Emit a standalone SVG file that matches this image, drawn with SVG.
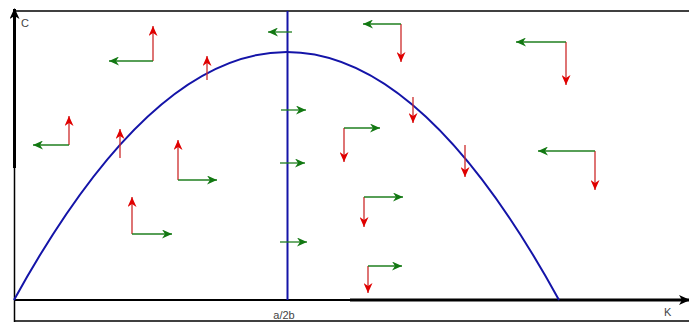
<svg xmlns="http://www.w3.org/2000/svg" width="689" height="322" viewBox="0 0 689 322">
<style>
.frame{stroke:#000;stroke-width:1.5;fill:none}
.axis{stroke:#000;fill:none}
.blue{stroke:#1414a8;stroke-width:2;fill:none}
.r{stroke:#cc2a2a;stroke-width:1.3;fill:none;marker-end:url(#mr)}
.g{stroke:#1f7f1f;stroke-width:1.3;fill:none;marker-end:url(#mg)}
.lbl{font-family:"Liberation Sans",Arial,sans-serif;font-size:11px;fill:#444}
</style>
<defs>
<marker id="mr" markerUnits="userSpaceOnUse" markerWidth="10" markerHeight="9" viewBox="0 0 10 9" refX="10" refY="4.5" orient="auto">
<path d="M0,0 L10,4.5 L0,9 L3,4.5 z" fill="#e00000"/>
</marker>
<marker id="mg" markerUnits="userSpaceOnUse" markerWidth="10" markerHeight="9" viewBox="0 0 10 9" refX="10" refY="4.5" orient="auto">
<path d="M0,0 L10,4.5 L0,9 L3,4.5 z" fill="#127812"/>
</marker>
<marker id="mk" markerUnits="userSpaceOnUse" markerWidth="11" markerHeight="10" viewBox="0 0 11 10" refX="10" refY="5" orient="auto">
<path d="M0,0 L11,5 L0,10 L3,5 z" fill="#000"/>
</marker>
</defs>
<g id="frame">
<line class="frame" x1="14" y1="11" x2="689" y2="11"/>
<line class="frame" x1="14.5" y1="11" x2="14.5" y2="322"/>
<line class="frame" x1="14" y1="321" x2="689" y2="321"/>
</g>
<g id="axes">
<line class="axis" stroke-width="3" x1="14.5" y1="168" x2="14.5" y2="9" marker-end="url(#mk)"/>
<line class="axis" stroke-width="2" x1="14" y1="300" x2="352" y2="300"/>
<line class="axis" stroke-width="3" x1="350" y1="300" x2="689" y2="300" marker-end="url(#mk)"/>
</g>
<g id="curves">
<path class="blue" d="M14,300 Q287,-196 559,300"/>
<line class="blue" x1="287.5" y1="11" x2="287.5" y2="300"/>
</g>
<g id="connectors">
<path class="r" d="M153,61 V26"/><path class="g" d="M153,61 H109"/>
<path class="r" d="M69,145 V116"/><path class="g" d="M69,145 H33"/>
<path class="r" d="M178,180 V140"/><path class="g" d="M178,180 H217"/>
<path class="r" d="M132,234 V197"/><path class="g" d="M132,234 H172"/>
<path class="r" d="M401,24 V62"/><path class="g" d="M401,24 H363"/>
<path class="r" d="M566,42 V85"/><path class="g" d="M566,42 H516"/>
<path class="r" d="M595,151 V190"/><path class="g" d="M595,151 H538"/>
<path class="r" d="M344,128 V162"/><path class="g" d="M344,128 H380"/>
<path class="r" d="M364,197 V227"/><path class="g" d="M364,197 H403"/>
<path class="r" d="M368,266 V293"/><path class="g" d="M368,266 H402"/>
<path class="r" d="M207,80 V56"/>
<path class="r" d="M120,158 V129"/>
<path class="r" d="M413,97 V123"/>
<path class="r" d="M465,145 V177"/>
<path class="g" d="M292,32 H268"/>
<path class="g" d="M281,110 H306"/>
<path class="g" d="M280,163 H305"/>
<path class="g" d="M280,242 H307"/>
</g>
<g id="labels">
<text class="lbl" x="21" y="27">C</text>
<text class="lbl" x="284" y="319" text-anchor="middle">a/2b</text>
<text class="lbl" x="664" y="316">K</text>
</g>
</svg>
